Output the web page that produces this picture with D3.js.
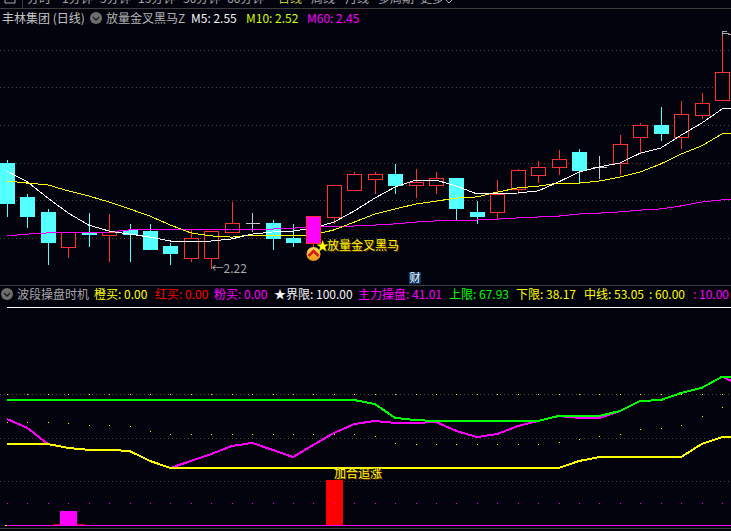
<!DOCTYPE html>
<html>
<head>
<meta charset="utf-8">
<script src="https://cdn.jsdelivr.net/npm/d3@7"></script>
<style>
  html, body { margin: 0; padding: 0; background: #03030e; overflow: hidden; }
  svg { display: block; }
  text { font-family: "Noto Sans CJK SC", "Noto Sans", sans-serif; font-size: 12px; }
</style>
</head>
<body>
<svg id="chart" width="731" height="531"></svg>
<script>
// candles, one entry per trading day
var opens  = [2.570,2.457,2.407,2.290,2.340,2.330,2.347,2.343,2.293,2.253,2.253,2.340,2.370,2.370,2.320,2.303,2.390,2.480,2.517,2.533,2.497,2.497,2.520,2.407,2.407,2.483,2.530,2.557,2.607,2.557,2.570,2.657,2.697,2.657,2.730,2.780];
var highs  = [2.583,2.470,2.420,2.340,2.407,2.403,2.370,2.370,2.307,2.353,2.343,2.443,2.407,2.383,2.370,2.393,2.497,2.543,2.543,2.570,2.553,2.543,2.520,2.447,2.517,2.553,2.580,2.617,2.620,2.597,2.667,2.707,2.760,2.780,2.807,3.010];
var lows   = [2.393,2.357,2.233,2.257,2.293,2.243,2.243,2.283,2.233,2.243,2.220,2.340,2.343,2.283,2.293,2.293,2.370,2.480,2.470,2.470,2.457,2.470,2.383,2.370,2.383,2.470,2.507,2.533,2.507,2.520,2.533,2.607,2.647,2.620,2.720,2.780];
var closes = [2.437,2.393,2.307,2.340,2.333,2.340,2.333,2.283,2.270,2.320,2.343,2.370,2.370,2.320,2.307,2.393,2.497,2.533,2.533,2.497,2.507,2.520,2.420,2.393,2.467,2.547,2.557,2.583,2.547,2.557,2.633,2.697,2.670,2.733,2.770,2.873];

// moving averages (one extra point, the next bar is off screen)
var m5  = [2.543,2.507,2.453,2.403,2.363,2.343,2.333,2.323,2.310,2.310,2.310,2.317,2.333,2.340,2.343,2.353,2.373,2.410,2.453,2.490,2.513,2.513,2.493,2.467,2.467,2.470,2.477,2.507,2.540,2.557,2.570,2.603,2.620,2.663,2.703,2.750,2.753];
var m10 = [2.510,2.503,2.497,2.477,2.460,2.440,2.417,2.393,2.363,2.337,2.327,2.323,2.330,2.327,2.327,2.330,2.347,2.373,2.400,2.417,2.433,2.443,2.453,2.457,2.473,2.487,2.493,2.503,2.503,2.510,2.523,2.540,2.567,2.600,2.627,2.667,2.670];
var m60 = [2.327,2.333,2.337,2.340,2.340,2.340,2.347,2.347,2.347,2.347,2.347,2.350,2.350,2.350,2.353,2.357,2.360,2.360,2.363,2.367,2.373,2.377,2.377,2.380,2.383,2.387,2.390,2.393,2.400,2.403,2.407,2.413,2.417,2.427,2.440,2.447,2.450];
var priceGrid = [2.947,2.823,2.697,2.570,2.447,2.320];
var signalBar = 15;

// lower panel
var upperBand = [57.2,57.2,57.2,57.2,57.2,57.2,57.2,57.2,57.2,57.2,57.2,57.2,57.2,57.2,57.2,57.2,57.2,57.2,55.4,49.0,48.0,47.6,47.6,47.6,47.6,47.6,47.6,49.9,49.9,49.9,52.2,56.8,57.2,60.5,62.8,67.93,67.93];
var lowerBand = [37.0,37.0,37.0,35.2,34.3,34.3,33.8,29.2,26.0,26.0,26.0,26.0,26.0,26.0,26.0,26.0,26.0,26.0,26.0,26.0,26.0,26.0,26.0,26.0,26.0,26.0,26.0,26.0,29.2,31.0,31.0,31.0,31.0,31.0,37.0,40.2,40.2];
var mainLine  = [48.5,44.4,37.0,35.2,34.3,34.3,33.8,29.2,26.0,29.2,32.4,36.1,37.5,34.3,31.0,36.6,42.1,46.2,47.6,46.7,46.7,47.1,43.0,40.2,41.6,45.3,47.6,49.9,49.0,49.0,52.2,56.8,57.2,60.5,62.8,67.93,63.7];
var midDots   = [47.1,47.1,47.1,46.7,45.7,45.7,45.3,43.0,41.6,41.6,41.6,41.6,41.6,41.6,41.6,41.6,41.6,41.6,40.7,37.5,37.0,37.0,37.0,37.0,37.0,37.0,37.0,37.9,39.3,40.7,41.6,43.9,44.4,45.7,49.9,54.0];
var boundary = [100,100];
var level60 = 60, level10 = 10, level0 = 0;
var pinkBars = [{i:3, v:6.2}];
var redBars  = [{i:16, v:20.4}];
var levelGrid = [60,40,20];

var tabs = [
  {t:"分时",x:27,c:"#a8a8a8"},{t:"1分钟",x:62,c:"#a8a8a8"},{t:"5分钟",x:100,c:"#a8a8a8"},
  {t:"15分钟",x:138,c:"#a8a8a8"},{t:"30分钟",x:183,c:"#a8a8a8"},{t:"60分钟",x:227,c:"#a8a8a8"},
  {t:"日线",x:278,c:"#c8c832"},{t:"周线",x:311,c:"#a8a8a8"},{t:"月线",x:345,c:"#a8a8a8"},
  {t:"多周期",x:378,c:"#a8a8a8"},{t:"更多",x:420,c:"#a8a8a8"}
];
var header1 = [
  {t:"丰林集团 (日线)",x:2,c:"#c4c4c4"},{t:"放量金叉黑马Z",x:106,c:"#b4b4b4"},
  {t:"M5: 2.55",x:191,c:"#f4f4f4"},{t:"M10: 2.52",x:246,c:"#d2ff00"},{t:"M60: 2.45",x:307,c:"#ff00ff"}
];
var header2 = [
  {t:"波段操盘时机",x:17,c:"#a8a8a8"},{t:"橙买: 0.00",x:94,c:"#ffff00"},{t:"红买: 0.00",x:155,c:"#ff0000"},
  {t:"粉买: 0.00",x:214,c:"#ff00ff"},{t:"★界限: 100.00",x:274,c:"#f4f4f4"},{t:"主力操盘: 41.01",x:358,c:"#ff00ff"},
  {t:"上限: 67.93",x:449,c:"#00ff00"},{t:"下限: 38.17",x:516,c:"#ffff00"},{t:"中线: 53.05",x:584,c:"#ffff00"},
  {t:": 60.00",x:649,c:"#ffff00"},{t:": 10.00",x:693,c:"#ff00ff"}
];

var svg = d3.select("svg#chart");
var width = 731;

var x = d3.scaleLinear().domain([0,36]).range([7,742.5]);
var yPrice = d3.scaleLinear().domain([2.22,3.0]).range([268,34]);
var yLevel = d3.scaleLinear().domain([0,100]).range([524.5,307]);

var cx = function(i){ return Math.round(x(i)) + 0.5; };
var py = function(v){ return Math.round(yPrice(v)) + 0.5; };

// panel rules and dotted grids
[8,285,528].forEach(function(y){
  svg.append("line").attr("x1",0).attr("x2",width).attr("y1",y+0.5).attr("y2",y+0.5).attr("stroke","#3c3c3c");
});
svg.append("line").attr("x1",22.5).attr("x2",22.5).attr("y1",0).attr("y2",8).attr("stroke","#3c3c3c");

svg.selectAll("line.priceGrid").data(priceGrid).enter().append("line")
  .attr("class","priceGrid")
  .attr("x1",0).attr("x2",width)
  .attr("y1",d => py(d)).attr("y2",d => py(d))
  .attr("stroke","#4a4a40").attr("stroke-dasharray","1,3");

svg.selectAll("line.levelGrid").data(levelGrid).enter().append("line")
  .attr("class","levelGrid")
  .attr("x1",0).attr("x2",width)
  .attr("y1",d => Math.round(yLevel(d))+0.5).attr("y2",d => Math.round(yLevel(d))+0.5)
  .attr("stroke","#4a4a40").attr("stroke-dasharray","1,3");

// candles
var bars = d3.range(opens.length);
var candleColor = function(i){
  if(closes[i] === opens[i]) return "#c8c8c8";
  return closes[i] > opens[i] ? "#ff3232" : "#54ffff";
};
var g = svg.append("g").attr("shape-rendering","crispEdges");
var drawCandle = function(i){
  var top = Math.max(opens[i],closes[i]), bot = Math.min(opens[i],closes[i]);
  var c = candleColor(i);
  g.append("line").attr("x1",cx(i)).attr("x2",cx(i)).attr("y1",py(highs[i])).attr("y2",py(top)).attr("stroke",c);
  g.append("line").attr("x1",cx(i)).attr("x2",cx(i)).attr("y1",py(bot)).attr("y2",py(lows[i])).attr("stroke",c);
  if(top === bot){
    g.append("line").attr("x1",cx(i)-7).attr("x2",cx(i)+7).attr("y1",py(top)).attr("y2",py(top)).attr("stroke",c);
    return;
  }
  g.append("rect").attr("x",cx(i)-7).attr("width",14)
    .attr("y",py(top)).attr("height",py(bot)-py(top))
    .attr("fill", i === signalBar ? "#ff00ff" : (closes[i] > opens[i] ? "#03030e" : c))
    .attr("stroke",c);
};
bars.filter(i => i !== signalBar).forEach(drawCandle);

// moving averages
var priceLine = d3.line().x((d,i) => x(i)).y(d => yPrice(d));
[[m60,"#ff00ff"],[m10,"#ffff00"],[m5,"#ffffff"]].forEach(function(s){
  svg.append("path").attr("d",priceLine(s[0])).attr("fill","none")
    .attr("stroke",s[1]).attr("stroke-width",1).attr("shape-rendering","crispEdges");
});

g = svg.append("g").attr("shape-rendering","crispEdges");
drawCandle(signalBar);

// high and low notes
svg.append("text").attr("x",cx(10)).attr("y",yPrice(2.22)+5).attr("fill","#a8a8a8").text("←2.22");
svg.append("path")
  .attr("d","M"+(cx(35))+","+(py(3.01)+4)+"V"+py(3.01)+"h4M"+cx(35)+","+(py(3.01)+2)+"h3l6,1")
  .attr("fill","none").attr("stroke","#a8a8a8").attr("shape-rendering","crispEdges");

// signal marker under the pink bar
var grad = svg.append("defs").append("linearGradient").attr("id","badge").attr("x1",0).attr("x2",0).attr("y1",0).attr("y2",1);
grad.append("stop").attr("offset",0).attr("stop-color","#ffe060");
grad.append("stop").attr("offset",1).attr("stop-color","#f09010");
var mx = cx(signalBar), my = 254;
svg.append("circle").attr("cx",mx).attr("cy",my).attr("r",7).attr("fill","url(#badge)");
svg.append("path").attr("d","M"+(mx-5)+","+(my+2)+"L"+mx+","+(my-3)+"L"+(mx+5)+","+(my+2))
  .attr("fill","none").attr("stroke","#d81818").attr("stroke-width",2.6);
svg.append("text").attr("x",316).attr("y",250).attr("fill","#ffff00").style("font-size","13px").text("★");
svg.append("text").attr("x",327).attr("y",250).attr("fill","#ffff00")
  .style("text-shadow","1px 1px 0 #703000").text("放量金叉黑马");

// 财 badge
svg.append("rect").attr("x",409).attr("y",272).attr("width",12).attr("height",12).attr("fill","#0c3a68");
svg.append("text").attr("x",415).attr("y",282).attr("text-anchor","middle").attr("fill","#ffffff").style("font-size","11px").text("财");

// headers
var topText = function(rows, y){
  svg.selectAll(null).data(rows).enter().append("text")
    .attr("x",d => d.x).attr("y",y).attr("fill",d => d.c).text(d => d.t);
};
topText(tabs,3);
svg.append("path").attr("d","M5,-3V3H15V-3").attr("fill","none").attr("stroke","#a8a8a8");
svg.append("path").attr("d","M446,0l3,3l3,-3").attr("fill","none").attr("stroke","#a8a8a8");
topText(header1,23);
topText(header2,299);
[[96,18],[7,294]].forEach(function(p){
  svg.append("circle").attr("cx",p[0]).attr("cy",p[1]).attr("r",6).attr("fill","#6e6e6e");
  svg.append("path").attr("d","M"+(p[0]-3)+","+(p[1]-1)+"l3,3l3,-3").attr("fill","none").attr("stroke","#1c1c1c").attr("stroke-width",1.4);
});

// lower panel bars
var lv = function(v){ return Math.round(yLevel(v)); };
svg.append("rect").attr("x",cx(3)-15).attr("width",31).attr("y",lv(level0)-1).attr("height",1).attr("fill","#c80000");
svg.selectAll("rect.pink").data(pinkBars).enter().append("rect").attr("class","pink")
  .attr("x",d => cx(d.i)-8.5).attr("width",17)
  .attr("y",d => lv(d.v)).attr("height",d => lv(level0)-lv(d.v)).attr("fill","#ff00ff");
svg.selectAll("rect.red").data(redBars).enter().append("rect").attr("class","red")
  .attr("x",d => cx(d.i)-8.5).attr("width",17)
  .attr("y",d => lv(d.v)).attr("height",d => lv(level0)-lv(d.v)).attr("fill","#ff0000");

// lower panel lines
var levelLine = d3.line().x((d,i) => x(i)).y(d => yLevel(d));
svg.append("line").attr("x1",x(0)).attr("x2",width).attr("y1",lv(boundary[0])+0.5).attr("y2",lv(boundary[1])+0.5).attr("stroke","#ffffff");
svg.append("line").attr("x1",x(0)-2).attr("x2",x(0)).attr("y1",lv(level0)+0.5).attr("y2",lv(level0)+0.5).attr("stroke","#ffff00");
svg.append("line").attr("x1",x(0)).attr("x2",width).attr("y1",lv(level0)+0.5).attr("y2",lv(level0)+0.5).attr("stroke","#ff00ff");
[[mainLine,"#ff00ff"],[lowerBand,"#ffff00"],[upperBand,"#00ff00"]].forEach(function(s){
  svg.append("path").attr("d",levelLine(s[0])).attr("fill","none")
    .attr("stroke",s[1]).attr("stroke-width",2).attr("shape-rendering","crispEdges");
});

// dotted levels, one pixel per bar
var dots = function(vals, color){
  svg.selectAll(null).data(vals).enter().append("rect")
    .attr("x",(d,i) => Math.round(x(i))).attr("y",d => lv(d)).attr("width",1).attr("height",1).attr("fill",color);
};
dots(midDots,"#ffff00");
dots(bars.map(() => level60),"#ffff00");
dots(bars.map(() => level10),"#ff00ff");

svg.append("text").attr("x",334).attr("y",478).attr("fill","#ffff00")
  .style("text-shadow","1px 1px 0 #703000").text("加合追涨");
</script>
</body>
</html>
